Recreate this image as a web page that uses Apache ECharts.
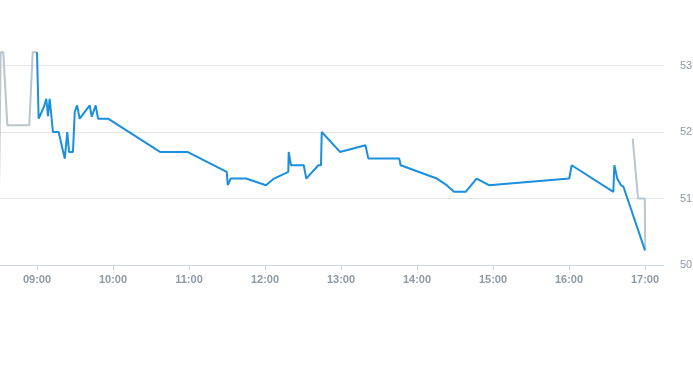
<!DOCTYPE html>
<html>
<head>
<meta charset="utf-8">
<script src="https://cdn.jsdelivr.net/npm/echarts@6/dist/echarts.min.js"></script>
<style>
html,body{margin:0;padding:0;background:#fff;}
#chart{width:693px;height:365px;}
</style>
</head>
<body>
<div id="chart"></div>
<script>
// Pre-market (grey)
const preTimes = ['08:30:00','08:31:18','08:33:24','08:36:36','08:53:54','08:56:36','09:00:00'];
const prePrices = [51.13, 53.20, 53.20, 52.10, 52.10, 53.20, 53.20];

// Regular session (blue)
const mainTimes = ['09:00:00','09:01:18','09:05:30','09:07:18','09:08:42','09:10:00','09:12:36','09:17:06',
  '09:21:54','09:23:54','09:25:18','09:28:24','09:29:48','09:31:36','09:33:42','09:41:36','09:43:12',
  '09:46:18','09:48:12','09:56:06','10:37:06','10:58:42','11:29:48','11:30:36','11:32:54','11:45:00',
  '12:00:48','12:07:06','12:18:24','12:18:42','12:20:30','12:30:36','12:32:36','12:42:06','12:44:12',
  '12:44:48','12:59:12','13:19:18','13:21:36','13:46:00','13:47:06','14:15:36','14:23:30','14:29:12',
  '14:38:24','14:47:06','14:56:48','16:00:12','16:02:06','16:35:00','16:35:48','16:38:06','16:41:00',
  '16:42:54','17:00:00'];
const mainPrices = [53.20, 52.20, 52.38, 52.50, 52.24, 52.50, 52.00, 52.00,
  51.60, 52.00, 51.70, 51.70, 52.30, 52.40, 52.20, 52.40, 52.23,
  52.40, 52.20, 52.20, 51.70, 51.70, 51.40, 51.20, 51.30, 51.30,
  51.20, 51.30, 51.40, 51.70, 51.50, 51.50, 51.30, 51.50, 51.50,
  52.00, 51.70, 51.80, 51.60, 51.60, 51.50, 51.30, 51.20, 51.10,
  51.10, 51.30, 51.20, 51.30, 51.50, 51.10, 51.50, 51.30, 51.20,
  51.18, 50.22];

// After-hours (grey)
const postTimes = ['16:50:18','16:54:30','16:59:48','17:00:12'];
const postPrices = [51.90, 51.00, 51.00, 50.22];

const xTickLabels = ['09:00','10:00','11:00','12:00','13:00','14:00','15:00','16:00','17:00'];
const xStart = '08:30';
const xEnd = '17:15';

function toMin(s) {
  const p = s.split(':').map(Number);
  return p[0] * 60 + p[1] + (p[2] || 0) / 60;
}
function fmt(v) {
  const h = Math.floor(v / 60), m = Math.round(v - h * 60);
  return (h < 10 ? '0' : '') + h + ':' + (m < 10 ? '0' : '') + m;
}
function pairs(ts, vs) { return ts.map((t, i) => [toMin(t), vs[i]]); }

const tickVals = xTickLabels.map(toMin);
const chart = echarts.init(document.getElementById('chart'), null, {renderer: 'canvas'});
chart.setOption({
  animation: false,
  backgroundColor: '#ffffff',
  grid: {left: -1, right: 29, top: -1, bottom: 100, containLabel: false, outerBoundsMode: 'none'},
  xAxis: {
    type: 'value',
    min: toMin(xStart),
    max: toMin(xEnd),
    axisLine: {show: true, lineStyle: {color: '#ccd6eb', width: 1}},
    axisTick: {show: true, length: 5, customValues: tickVals, lineStyle: {color: '#ccd6eb'}},
    axisLabel: {
      customValues: tickVals,
      formatter: fmt,
      color: '#8d99a6',
      fontSize: 11,
      fontWeight: 'bold',
      fontFamily: 'Liberation Sans, Arial, sans-serif',
      margin: 9
    },
    splitLine: {show: false}
  },
  yAxis: {
    type: 'value',
    position: 'right',
    min: 50,
    max: 54,
    interval: 1,
    axisLine: {show: false},
    axisTick: {show: false},
    axisLabel: {
      showMaxLabel: false,
      color: '#8d99a6',
      fontSize: 11,
      fontFamily: 'Liberation Sans, Arial, sans-serif',
      margin: 16,
      padding: [3, 0, 0, 0]
    },
    splitLine: {show: true, lineStyle: {color: '#e6e6e6', width: 1}}
  },
  series: [
    {
      type: 'line', data: pairs(preTimes, prePrices), showSymbol: false, symbol: 'none',
      lineStyle: {color: '#bac5cc', width: 2}, itemStyle: {color: '#bac5cc'}, z: 2
    },
    {
      type: 'line', data: pairs(postTimes, postPrices), showSymbol: false, symbol: 'none',
      lineStyle: {color: '#bac5cc', width: 2}, itemStyle: {color: '#bac5cc'}, z: 2
    },
    {
      type: 'line', data: pairs(mainTimes, mainPrices), showSymbol: false, symbol: 'none',
      lineStyle: {color: '#1a8fdc', width: 2}, itemStyle: {color: '#1a8fdc'}, z: 3
    }
  ]
});
</script>
</body>
</html>
